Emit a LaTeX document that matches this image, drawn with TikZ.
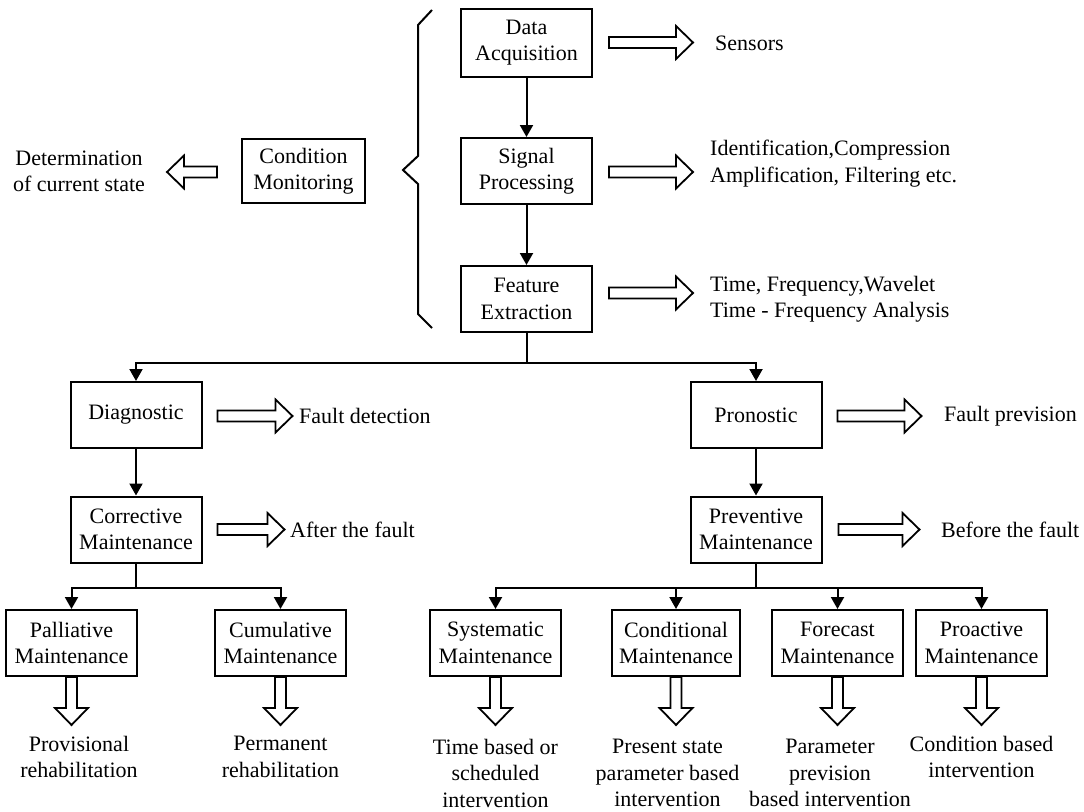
\documentclass[tikz,border=0pt]{standalone}
\usepackage{fontspec}
\setmainfont{Liberation Serif}
\usetikzlibrary{arrows.meta,calc}

\begin{document}
\begin{tikzpicture}[x=1pt,y=-1pt,
  every node/.style={font=\fontsize{22}{26.5}\selectfont},
  block/.style={draw, line width=2pt, inner sep=0pt, align=center,
                minimum width=131pt, minimum height=66pt},
  lbl/.style={inner sep=0pt, align=center},
  link/.style={line width=2pt},
  flow/.style={line width=2pt, -{Triangle[length=12pt,width=13pt]}},
  hollowline/.style={line width=1.8pt, line join=miter, fill=white},
  pics/harrow/.style={code={
    \draw[hollowline] (0,-5.5) -- (#1-17,-5.5) -- (#1-17,-16.5) -- (#1,0)
      -- (#1-17,16.5) -- (#1-17,5.5) -- (0,5.5) -- cycle;
  }}
]
\useasboundingbox (0,0) rectangle (1084,811);

% ---- acquisition chain ----
\node[block, minimum height=68pt] (da) at (526.5,42.5) {Data\\Acquisition};
\node[block] (sp) at (526.5,171) {Signal\\Processing};
\node[block] (fe) at (526.5,299) {Feature\\Extraction};
\draw[flow] (da) -- (sp);
\draw[flow] (sp) -- (fe);

\node[lbl, anchor=west] (sen) at (715,43) {Sensors};
\node[lbl, anchor=west, align=left] (spt) at (710,163.5)
  {Identification,Compression\\Amplification, Filtering etc.};
\node[lbl, anchor=west, align=left] (fet) at (710,299)
  {Time, Frequency,Wavelet\\Time - Frequency Analysis};
\pic at ($(da.east)+(16,0)$) {harrow=84};
\pic at ($(sp.east)+(16,1)$) {harrow=84};
\pic at ($(fe.east)+(16,-6)$) {harrow=84};

% ---- brace grouping the chain ----
\draw[link, line join=miter] (432,10) -- (418,25) -- (418,156) -- (403,170)
  -- (418,184) -- (418,314) -- (432,328);

\node[block, minimum width=123pt, minimum height=64pt] (cm) at (303.5,171)
  {Condition\\Monitoring};
\node[lbl] (cst) at (79,171.5) {Determination\\of current state};
\pic[rotate=180] at ($(cm.west)+(-24,1)$) {harrow=50};

% ---- diagnostic / prognostic split ----
\node[block] (dg) at (136,415) {Diagnostic};
\node[block] (pr) at (756,415) {Pronostic};
\coordinate (s1) at (526.5,363);
\draw[link] (fe.south) -- (s1);
\draw[flow] (s1) -| (dg.north);
\draw[flow] (s1) -| (pr.north);

\node[lbl, anchor=west] (fd) at (299,416) {Fault detection};
\node[lbl, anchor=west] (fp) at (944,416) {Fault prevision};
\pic at ($(dg.east)+(15,1)$) {harrow=75};
\pic at ($(pr.east)+(15,1)$) {harrow=84};

% ---- maintenance types ----
\node[block] (cr) at (136,529.5) {Corrective\\Maintenance};
\node[block] (pv) at (756,529.5) {Preventive\\Maintenance};
\draw[flow] (dg) -- (cr);
\draw[flow] (pr) -- (pv);

\node[lbl, anchor=west] (af) at (290,530) {After the fault};
\node[lbl, anchor=west] (bf) at (941,530) {Before the fault};
\pic at ($(cr.east)+(15,0)$) {harrow=67};
\pic at ($(pv.east)+(16,0)$) {harrow=81};

% ---- corrective branches ----
\node[block] (pa) at (71.5,643) {Palliative\\Maintenance};
\node[block] (cu) at (280.5,643) {Cumulative\\Maintenance};
\coordinate (s2) at (136,588);
\draw[link] (cr.south) -- (s2);
\draw[flow] (s2) -| (pa.north);
\draw[flow] (s2) -| (cu.north);

% ---- preventive branches ----
\node[block] (sy) at (495.5,643) {Systematic\\Maintenance};
\node[block, minimum width=128pt] (co) at (676,643) {Conditional\\Maintenance};
\node[block] (fo) at (837.5,643) {Forecast\\Maintenance};
\node[block] (pa2) at (981.5,643) {Proactive\\Maintenance};
\coordinate (s3) at (756,588);
\draw[link] (pv.south) -- (s3);
\draw[flow] (s3) -| (sy.north);
\draw[flow] (s3) -| (co.north);
\draw[flow] (s3) -| (fo.north);
\draw[flow] (s3) -| (pa2.north);

% ---- outcomes ----
\foreach \b in {pa,cu,sy,co,fo,pa2}{
  \pic[rotate=-90] at (\b.south) {harrow=48};
}
\node[lbl] (o1) at (79,757) {Provisional\\rehabilitation};
\node[lbl] (o2) at (280.5,757) {Permanent\\rehabilitation};
\node[lbl] (o3) at (495.5,773) {Time based or\\scheduled\\intervention};
\node[lbl] (o4) at (667.5,773) {Present state\\parameter based\\intervention};
\node[lbl] (o5) at (830,773) {Parameter\\prevision\\based intervention};
\node[lbl] (o6) at (981.5,757) {Condition based\\intervention};
\end{tikzpicture}
\end{document}
